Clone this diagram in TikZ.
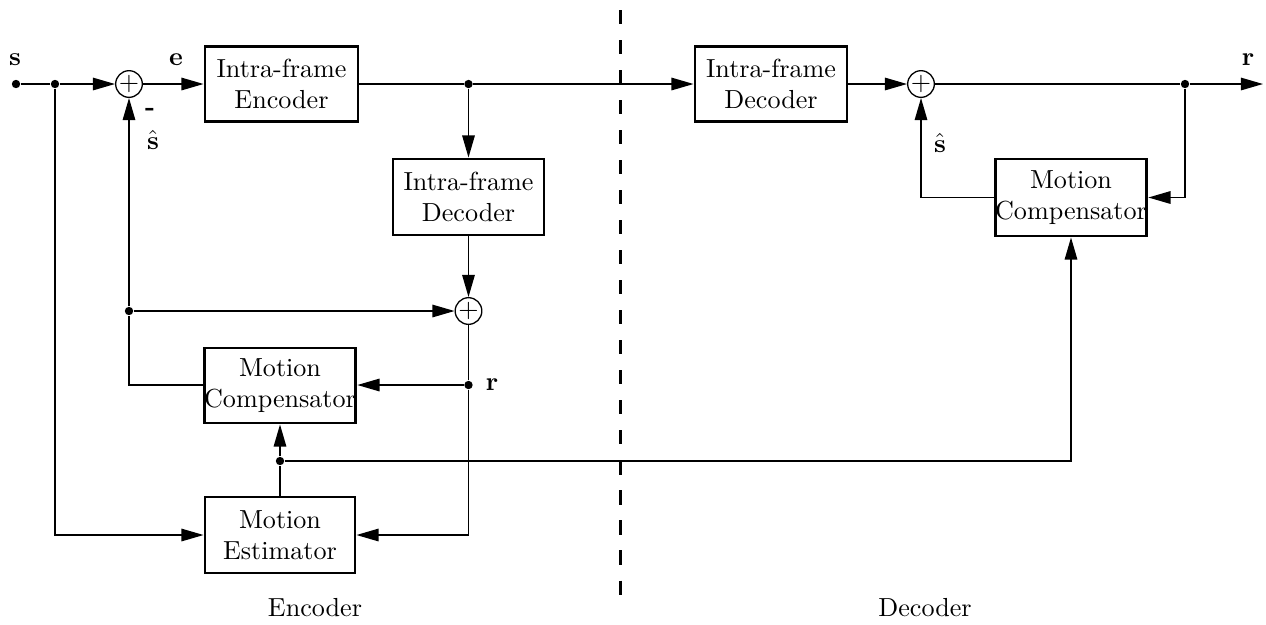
\documentclass[tikz,border=0pt]{standalone}
\usetikzlibrary{arrows.meta}
\begin{document}
\begin{tikzpicture}[x=0.383pt,y=-0.383pt,
  blk/.style={draw,line width=1.1pt,inner sep=0pt,align=center,font=\normalsize},
  sumnode/.style={draw,circle,line width=0.5pt,inner sep=0pt,minimum size=10pt},
  wire/.style={line width=0.55pt},
  arr/.style={wire,-{Triangle[length=8.5pt,width=4.8pt]}},
  dot/.style={circle,fill,inner sep=0pt,minimum size=3.2pt},
  lbl/.style={inner sep=0pt}]
\useasboundingbox (0,0) rectangle (1266,624);
% boxes
\node[blk,minimum width=153*0.383pt,minimum height=75*0.383pt] (enc) at (281.5,84) {Intra-frame\\Encoder};
\node[blk,minimum width=152*0.383pt,minimum height=75*0.383pt] (rdec) at (771,84) {Intra-frame\\Decoder};
\node[blk,minimum width=151*0.383pt,minimum height=76*0.383pt] (ldec) at (468.5,197) {Intra-frame\\Decoder};
\node[blk,minimum width=150*0.383pt,minimum height=75*0.383pt] (lmc) at (280,385.5) {Motion\\Compensator};
\node[blk,minimum width=150*0.383pt,minimum height=76*0.383pt] (me) at (280,535) {Motion\\Estimator};
\node[blk,minimum width=150*0.383pt,minimum height=77*0.383pt] (rmc) at (1071,197.5) {Motion\\Compensator};
% sums
\node[sumnode] (s1) at (129,84) {$+$};
\node[sumnode] (s2) at (921,84) {$+$};
\node[sumnode] (s3) at (468.5,311) {$+$};
% dots
\node[dot] (in) at (16,84) {};
\node[dot] (j1) at (55,84) {};
\node[dot] (j2) at (468.5,84) {};
\node[dot] (j3) at (1185,84) {};
\node[dot] (j4) at (129,311) {};
\node[dot] (j5) at (468.5,385) {};
\node[dot] (j6) at (280,461) {};
\coordinate (out) at (1263,84);
% labels
\node[lbl] (ls) at (15,60) {$\mathbf{s}$};
\node[lbl] (le) at (176,60) {$\mathbf{e}$};
\node[lbl] (lr) at (1248,60) {$\mathbf{r}$};
\node[lbl] (lr2) at (492,385) {$\mathbf{r}$};
\node[lbl] (lm) at (150,112) {\textbf{-}};
\node[lbl] (lsh) at (153,140) {$\hat{\mathbf{s}}$};
\node[lbl] (lsh2) at (940,143) {$\hat{\mathbf{s}}$};
\node[lbl] (lenc) at (315,608) {Encoder};
\node[lbl] (ldecl) at (925,608) {Decoder};
% dashed divider
\draw[line width=1.15pt,dash pattern=on 5.4pt off 6.1pt] (620,10) -- (620,600);
% connectors
\draw[wire] (in) -- (j1);
\draw[arr] (j1) -- (s1);
\draw[arr] (s1) -- (enc);
\draw[wire] (enc) -- (j2);
\draw[arr] (j2) -- (rdec);
\draw[arr] (j2) -- (ldec);
\draw[arr] (rdec) -- (s2);
\draw[wire] (s2) -- (j3);
\draw[arr] (j3) -- (out);
\draw[arr] (ldec) -- (s3);
\draw[arr] (j4) -- (s3);
\draw[wire] (s3) -- (j5);
\draw[arr] (j5) -- (lmc.east |- j5);
\draw[wire] (lmc.west |- j5) -| (j4);
\draw[arr] (j4) -- (s1);
\draw[arr] (j1) |- (me.west);
\draw[arr] (j5) |- (me.east);
\draw[wire] (me) -- (j6);
\draw[arr] (j6) -- (lmc);
\draw[arr] (j6) -| (rmc.south);
\draw[arr] (j3) |- (rmc.east);
\draw[arr] (rmc.west) -| (s2);
\end{tikzpicture}
\end{document}
